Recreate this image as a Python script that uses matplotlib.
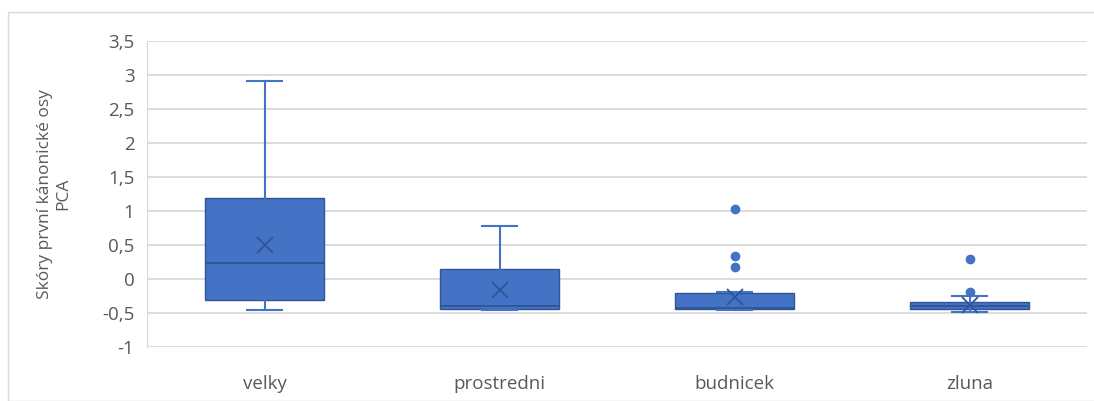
import matplotlib.pyplot as plt
from matplotlib.patches import Rectangle
from matplotlib.ticker import FuncFormatter

# data
categories = ['velky', 'prostredni', 'budnicek', 'zluna']
q1 = [-0.31, -0.446, -0.445, -0.445]
med = [0.24, -0.39, -0.42, -0.40]
q3 = [1.196, 0.147, -0.21, -0.34]
whislo = [-0.456, -0.456, -0.45, -0.48]
whishi = [2.91, 0.78, -0.186, -0.245]
means = [0.50, -0.16, -0.27, -0.38]
fliers = [[], [], [1.03, 0.34, 0.18], [0.29, -0.19]]

blue = '#4472C4'
dark = '#2F5597'
grey = '#595959'

plt.rcParams['font.family'] = ['Open Sans', 'DejaVu Sans']

fig = plt.figure(figsize=(10.94, 4.01), dpi=100)
fig.patches.append(Rectangle((8 / 1094, 0), 1.2, 1 - 12 / 401, transform=fig.transFigure,
                             fill=False, edgecolor='#D9D9D9', linewidth=1))
ax = fig.add_axes([147 / 1094, 1 - 347 / 401, (1087 - 147) / 1094, (347 - 41) / 401])

stats = []
for i, name in enumerate(categories):
    stats.append(dict(label=name, q1=q1[i], med=med[i], q3=q3[i], whislo=whislo[i],
                      whishi=whishi[i], mean=means[i], fliers=fliers[i]))

ax.bxp(stats, positions=range(1, len(categories) + 1), widths=0.507, patch_artist=True,
       showmeans=True,
       boxprops=dict(facecolor=blue, edgecolor=dark, linewidth=1),
       medianprops=dict(color=dark, linewidth=1.3),
       whiskerprops=dict(color=blue, linewidth=1.5),
       capprops=dict(color=blue, linewidth=1.5),
       capwidths=0.145,
       meanprops=dict(marker='x', markeredgecolor=dark, markersize=12, markeredgewidth=1.3),
       flierprops=dict(marker='o', markerfacecolor=blue, markeredgecolor=blue, markersize=6))

ax.set_xlim(0.5, len(categories) + 0.5)
ax.set_ylim(-1, 3.5)
ax.set_yticks([-1, -0.5, 0, 0.5, 1, 1.5, 2, 2.5, 3, 3.5])
ax.yaxis.set_major_formatter(FuncFormatter(lambda v, p: ('%g' % v).replace('.', ',')))
ax.grid(axis='y', color='#D9D9D9', linewidth=1.3)
ax.set_axisbelow(True)
for s in ['top', 'right', 'bottom']:
    ax.spines[s].set_visible(False)
ax.spines['left'].set_color('#D9D9D9')
ax.tick_params(axis='both', length=0, labelsize=13.5, colors=grey, pad=9)
ax.tick_params(axis='x', pad=20)
ax.set_ylabel('Skóry první kánonické osy\nPCA', fontsize=12.5, color=grey, labelpad=22)

fig.savefig('out.png', dpi=100)
